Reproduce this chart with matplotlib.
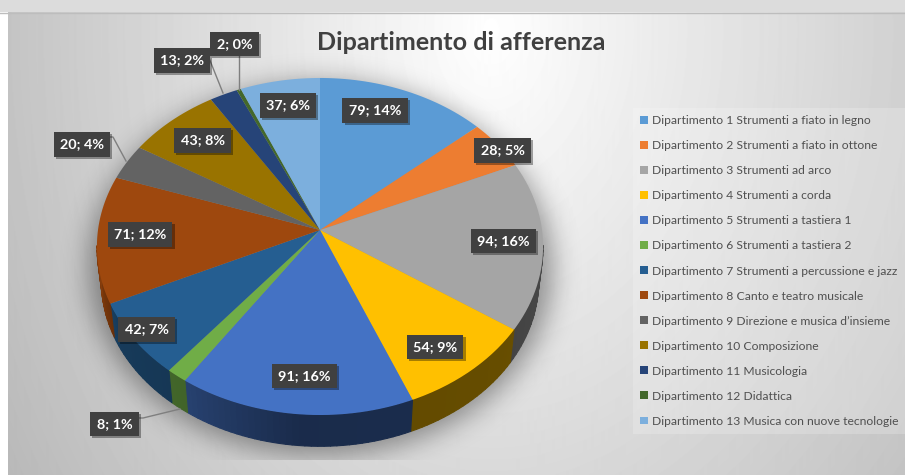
import numpy as np
import matplotlib
matplotlib.use("Agg")
import matplotlib.pyplot as plt
from matplotlib.collections import PolyCollection
from matplotlib.colors import to_rgb
from matplotlib.patches import Rectangle
from matplotlib.path import Path
from matplotlib.transforms import Affine2D, Transform
import matplotlib.patheffects as pe

# ---------- data ----------
departments = [
    "Dipartimento 1 Strumenti a fiato in legno",
    "Dipartimento 2 Strumenti a fiato in ottone",
    "Dipartimento 3 Strumenti ad arco",
    "Dipartimento 4 Strumenti a corda",
    "Dipartimento 5 Strumenti a tastiera 1",
    "Dipartimento 6 Strumenti a tastiera 2",
    "Dipartimento 7 Strumenti a percussione e jazz",
    "Dipartimento 8 Canto e teatro musicale",
    "Dipartimento 9 Direzione e musica d\u2019insieme",
    "Dipartimento 10 Composizione",
    "Dipartimento 11 Musicologia",
    "Dipartimento 12 Didattica",
    "Dipartimento 13 Musica con nuove tecnologie",
]
counts = [79, 28, 94, 54, 91, 8, 42, 71, 20, 43, 13, 2, 37]
percents = [14, 5, 16, 9, 16, 1, 7, 12, 4, 8, 2, 0, 6]
title = "Dipartimento di afferenza"

# ---------- styles / layout ----------
colors = ["#5b9bd5", "#ed7d31", "#a5a5a5", "#ffc000", "#4472c4", "#70ad47", "#255e91",
          "#9e480e", "#636363", "#997300", "#264478", "#43682b", "#7cafdd"]
label_centres = [(375, 110.5), (502.5, 150.5), (503.5, 241), (435, 347), (304.5, 376),
                 (114.5, 424), (146.5, 329.5), (140, 234.5), (82, 144.5), (202.5, 140.5),
                 (182, 60.5), (234.5, 44), (288, 105.5)]
leaders = [[(107, 137), (113, 137), (126, 161)],
           [(207, 53), (223, 93)],
           [(239, 56), (239, 90)],
           [(136, 418), (143, 418), (180, 409)]]
W, H = 905, 475
CX, CY = 320.0, 230.0
PERSP, SY, SX = 0.0979, 166.9, 222.0
SIDE_SCALE, SIDE_DY = 0.98, 35.0


class PieProjection(Transform):
    """Tilted-disc perspective: unit pie coordinates to picture pixels."""
    input_dims = output_dims = 2
    is_separable = False
    has_inverse = False

    def __init__(self, scale=1.0, dy=0.0):
        super().__init__()
        self.scale_, self.dy = scale, dy

    def transform_non_affine(self, xy):
        xy = np.asarray(xy, float)
        w = 1 + PERSP * xy[:, 1]
        return np.column_stack([CX + self.scale_ * SX * xy[:, 0] / w,
                                CY - self.scale_ * SY * xy[:, 1] / w + self.dy])

    def transform_path_non_affine(self, path):
        polys = path.to_polygons(transform=Affine2D().scale(800), closed_only=True)
        return Path(self.transform_non_affine(polys[0] / 800), closed=True)


fig = plt.figure(figsize=(W / 100, H / 100), dpi=100)
ax = fig.add_axes([0, 0, 1, 1])

# background gradient
yy, xx = np.mgrid[0:H, 0:W]
d = np.sqrt(((xx - 490) / (490.0 + 0.12 * (xx > 490) * (xx - 490))) ** 2 + ((yy - 30) / 700.0) ** 2)
ax.imshow(255 - 60 * d, cmap="gray", vmin=0, vmax=255, extent=(0, W, H, 0), aspect="auto", zorder=0)


def blur(a, sigma):
    k = np.exp(-0.5 * (np.arange(-3 * sigma, 3 * sigma + 1) / sigma) ** 2)
    k /= k.sum()
    a = np.apply_along_axis(lambda r: np.convolve(r, k, mode="same"), 0, a)
    return np.apply_along_axis(lambda r: np.convolve(r, k, mode="same"), 1, a)


# soft shadow below the pie, with the faint streaks at its sides
mask = (((xx - 320) / 232.0) ** 2 + ((yy - 268) / 187.0) ** 2 < 1).astype(float)
soft = blur(mask, 13) * 0.38
reach = np.clip((yy - 235) / 105.0, 0, 1)
streak = ((xx > 92 - 10 * reach) & (xx < 548 + 10 * reach) & (yy > 240) & (yy < 335)).astype(float)
soft = np.maximum(soft, blur(streak, 6) * 0.09)
soft[yy >= 460] = 0
rgba = np.zeros((H, W, 4))
rgba[..., 3] = soft
ax.imshow(rgba, extent=(0, W, H, 0), aspect="auto", zorder=1)

# window chrome of the screenshot
ax.add_patch(Rectangle((0, 12), 8, H, fc="white", ec="none", zorder=1.5))
ax.add_patch(Rectangle((0, 0), W, 12, fc="#dcdcdc", ec="none", zorder=1.5))
ax.plot([0, W], [12.5, 12.5], color="#bdbdbd", lw=1, zorder=1.6)

# pie side wall (only its front half can show)
total = sum(counts)
edges = np.cumsum([0] + counts) / total * 2 * np.pi
top, bottom = PieProjection(), PieProjection(SIDE_SCALE, SIDE_DY)
quads, quad_colors = [], []
for a0, a1, col in zip(edges[:-1], edges[1:], colors):
    n = max(2, int(np.degrees(a1 - a0) / 1.5))
    ang = np.linspace(a0, a1, n + 1)
    pts = np.column_stack([np.sin(ang), np.cos(ang)])
    t, b = top.transform_non_affine(pts), bottom.transform_non_affine(pts)
    for i in range(n):
        deg = np.degrees(0.5 * (ang[i] + ang[i + 1]))
        if not 95 < deg < 265:
            continue
        quads.append([t[i], t[i + 1], b[i + 1], b[i]])
        f = np.interp(deg, [90, 130, 185, 215, 240, 270], [0.45, 0.40, 0.38, 0.58, 0.62, 0.9])
        quad_colors.append(tuple(np.array(to_rgb(col)) * f))
ax.add_collection(PolyCollection(quads, facecolors=quad_colors, edgecolors=quad_colors,
                                 linewidths=0.8, zorder=2))

# pie top
wedges, _ = ax.pie(counts, colors=colors, startangle=90, counterclock=False, radius=1)
for w in wedges:
    w.set_transform(PieProjection() + ax.transData)
    w.set_zorder(3)
    w.set_edgecolor("none")
    w.set_clip_on(False)

# leader lines
for pts in leaders:
    ax.plot(*zip(*pts), color="#7f7f7f", lw=1, zorder=4)

# data labels
for v, p, (x, y) in zip(counts, percents, label_centres):
    t = ax.text(x, y, f"{v}; {p}%", ha="center", va="center", color="white", family="Lato",
                fontweight="bold", fontsize=10.4, zorder=5,
                bbox=dict(boxstyle="square,pad=0.44", fc="#404040", ec="none"))
    t.get_bbox_patch().set_path_effects([
        pe.SimplePatchShadow(offset=(1.5, -1.5), shadow_rgbFace="black", alpha=0.35),
        pe.Normal()])

# title
ax.text(461, 42, title, ha="center", va="center", family="Lato", fontweight="bold",
        fontsize=18.1, color="#404040", zorder=5)

# legend
leg = ax.legend(wedges, departments, loc="upper left",
                bbox_to_anchor=(633 / W, 1 - 108 / H), bbox_transform=fig.transFigure,
                borderaxespad=0, borderpad=0.6, labelspacing=1.155, handlelength=0.62,
                handleheight=0.62, handletextpad=0.35,
                prop={"family": "Lato", "size": 8.75}, labelcolor="#505050",
                frameon=True, fancybox=False, framealpha=0.2, facecolor="white", edgecolor="none")
leg.set_zorder(2)

ax.set_aspect("auto")
ax.set_xlim(0, W)
ax.set_ylim(H, 0)
ax.axis("off")
fig.savefig("out.png", dpi=100)
